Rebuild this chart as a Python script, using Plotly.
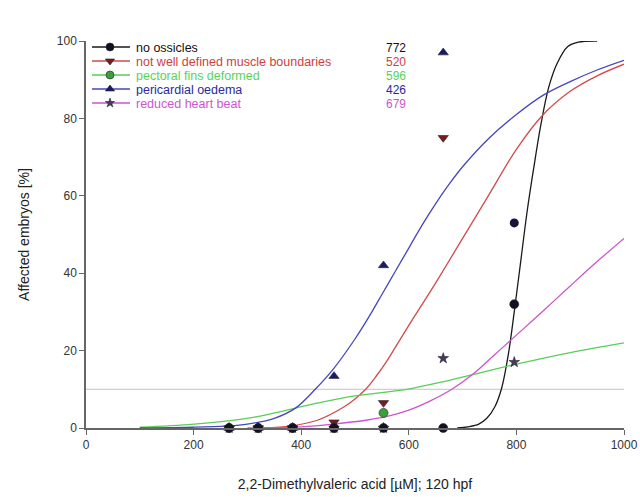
import plotly.graph_objects as go

# ---------------- data ----------------
conc = [266, 320, 384, 461, 553, 664, 796]
no_ossicles = [0, 0, 0, 0, 0, 0, 32]
muscle = [0, 0, 0, 1.5, 6.5, 75, None]
pectoral = [0, 0, 0, 0, 3.9, None, None]
pericardial = [0, 0, 0, 13.4, 42, 97, None]
heart_beat = [0, 0, 0, 0, 0, 18, 17]
extra_x = [796]
extra_y = [53]

# fitted curves
fit_black_x = [690, 710, 730, 745, 760, 772, 785, 796, 808, 820, 832, 845, 860, 875, 895, 915, 950]
fit_black_y = [0, 0.3, 1, 2.5, 5.5, 10, 19, 30, 43, 56, 67, 78, 88, 94, 98.5, 99.7, 100]
fit_red_x = [330, 380, 430, 480, 500, 520, 540, 560, 580, 600, 650, 700, 750, 800, 850, 900, 950, 1000]
fit_red_y = [0, 0.5, 2, 5.5, 7.5, 10, 13.5, 17.5, 22, 26.5, 37.5, 49, 60.5, 72, 81, 87, 91, 94]
fit_green_x = [100, 200, 305, 429, 500, 596, 677, 800, 900, 1000]
fit_green_y = [0.2, 1, 2.6, 6.4, 8.3, 10, 12.4, 16.5, 19.5, 22]
fit_blue_x = [100, 200, 260, 300, 350, 390, 426, 460, 500, 525, 550, 575, 600, 625, 650, 675, 700,
              750, 800, 850, 900, 950, 1000]
fit_blue_y = [0, 0.2, 0.5, 1, 2.5, 5.2, 10, 15.3, 23, 28.5, 34.5, 40.5, 46.5, 52.5, 58, 63, 67.5,
              75, 81, 86, 89.5, 92.5, 95]
fit_mag_x = [300, 400, 460, 520, 560, 600, 640, 680, 720, 760, 800, 850, 900, 950, 1000]
fit_mag_y = [0, 0.3, 1, 2, 3, 4.6, 7, 10, 14, 19, 24, 30.3, 36.7, 43, 49]

threshold = 10
x_ticks = [0, 200, 400, 600, 800, 1000]
y_ticks = [0, 20, 40, 60, 80, 100]

names = ["no ossicles", "not well defined muscle boundaries", "pectoral fins deformed",
         "pericardial oedema", "reduced heart beat"]
ec10 = ["772", "520", "596", "426", "679"]

# ---------------- styles ----------------
FONT = "Liberation Sans, Arial, sans-serif"
line_cols = ["#1a1a1a", "#d24a4a", "#5acc5a", "#4646c0", "#cc55cc"]
text_cols = ["#111111", "#d04040", "#5ad25a", "#2a2a9e", "#d055d0"]
mk_cols = ["#111122", "#7a1a1a", "#3aa03a", "#1a1a6a", "#4a3a58"]
mk_syms = ["circle", "triangle-down", "circle", "triangle-up", "star"]
mk_sizes = [9, 9, 9, 9, 8]

series_y = [no_ossicles, muscle, pectoral, pericardial, heart_beat]
fits = [(fit_black_x, fit_black_y), (fit_red_x, fit_red_y), (fit_green_x, fit_green_y),
        (fit_blue_x, fit_blue_y), (fit_mag_x, fit_mag_y)]

fig = go.Figure()

# threshold line
fig.add_trace(go.Scatter(x=[0, 1000], y=[threshold, threshold], mode="lines",
                         line=dict(color="#c4c4c4", width=1), showlegend=False, hoverinfo="skip"))

# fitted curves
for i, (fx, fy) in enumerate(fits):
    fig.add_trace(go.Scatter(x=fx, y=fy, mode="lines", line=dict(color=line_cols[i], width=1.3,
                             shape="spline", smoothing=1.0), showlegend=False, hoverinfo="skip"))

# data markers (black drawn last)
order = [2, 1, 3, 4, 0]
for i in order:
    fig.add_trace(go.Scatter(x=conc, y=series_y[i], mode="markers", cliponaxis=False,
                             marker=dict(symbol=mk_syms[i], size=mk_sizes[i], color=mk_cols[i],
                                         line=dict(color="#222233", width=0.6)),
                             name=names[i], showlegend=False))
fig.add_trace(go.Scatter(x=extra_x, y=extra_y, mode="markers", cliponaxis=False,
                         marker=dict(symbol="circle", size=9, color="#15153a"), showlegend=False))

# ---------------- layout geometry ----------------
W, H = 640, 498
L, R, T, B = 86, 16, 41, 70
pw, ph = W - L - R, H - T - B
PLOT_BOTTOM = H - B


def px_x(p):
    return p - L


def px_y(p):
    return PLOT_BOTTOM - p


# ---------------- custom legend (pixel-based overlay axes) ----------------
rows_px = [47, 61, 75, 89, 103]
for i in range(5):
    yy = px_y(rows_px[i])
    fig.add_trace(go.Scatter(x=[px_x(92), px_x(130)], y=[yy, yy], xaxis="x2", yaxis="y2", mode="lines",
                             line=dict(color=line_cols[i], width=1.3), showlegend=False, hoverinfo="skip"))
    fig.add_trace(go.Scatter(x=[px_x(110)], y=[yy], xaxis="x2", yaxis="y2", mode="markers",
                             marker=dict(symbol=mk_syms[i], size=mk_sizes[i] - 1, color=mk_cols[i],
                                         line=dict(color="#222233", width=0.6)),
                             showlegend=False, hoverinfo="skip"))
    fig.add_annotation(x=px_x(134), y=yy, xref="x2", yref="y2", text=names[i], showarrow=False,
                       xanchor="left", yanchor="middle", height=13, valign="middle",
                       font=dict(family=FONT, size=12.5, color=text_cols[i]))
    fig.add_annotation(x=px_x(384), y=yy, xref="x2", yref="y2", text=ec10[i], showarrow=False,
                       xanchor="left", yanchor="middle", height=13, valign="middle",
                       font=dict(family=FONT, size=12, color=text_cols[i]))

fig.add_annotation(x=px_x(375), y=px_y(15), xref="x2", yref="y2", text="EC<sub>10</sub> (µM)",
                   showarrow=False, xanchor="left", yanchor="middle",
                   font=dict(family=FONT, size=11, color="#111111"))

axis_common = dict(showline=True, linecolor="#666666", linewidth=1.5, ticks="outside", ticklen=5,
                   tickcolor="#666666", tickwidth=1, showgrid=False, zeroline=False, automargin=False,
                   tickfont=dict(family=FONT, size=12, color="#333333"))

fig.update_layout(
    width=W, height=H, margin=dict(l=L, r=R, t=T, b=B, pad=0, autoexpand=False),
    paper_bgcolor="white", plot_bgcolor="white", showlegend=False, hovermode=False,
    xaxis=dict(range=[0, 1000], tickvals=x_ticks, **axis_common,
               title=dict(text="2,2-Dimethylvaleric acid [µM]; 120 hpf", standoff=28,
                          font=dict(family=FONT, size=14, color="#222222"))),
    yaxis=dict(range=[0, 100], tickvals=y_ticks, **axis_common,
               title=dict(text="Affected embryos [%]", standoff=24,
                          font=dict(family=FONT, size=14, color="#222222"))),
    xaxis2=dict(range=[0, pw], overlaying="x", visible=False, fixedrange=True),
    yaxis2=dict(range=[0, ph], overlaying="y", visible=False, fixedrange=True),
)

fig.write_html("out.html", config={"displayModeBar": False},
               post_script="document.body.style.margin='0';document.body.style.overflow='hidden';")
